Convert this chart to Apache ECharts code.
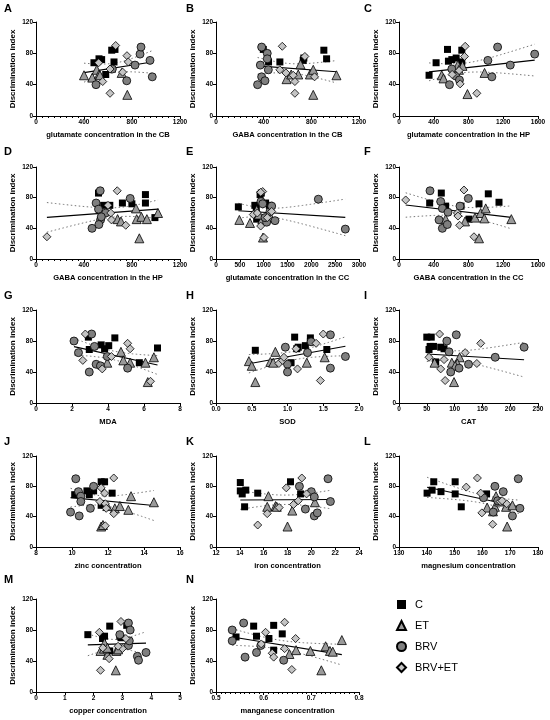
<!DOCTYPE html>
<html>
<head>
<meta charset="utf-8">
<script src="https://cdn.jsdelivr.net/npm/echarts@6/dist/echarts.min.js"></script>
<style>
  html, body { margin: 0; padding: 0; background: #fff; }
  #chart { width: 550px; height: 720px; }
</style>
</head>
<body>
<div id="chart"></div>
<script>
// groups
var groupNames = ['C', 'ET', 'BRV', 'BRV+ET']

// panel letters and x axis names / ticks
var letters = ['A', 'B', 'C', 'D', 'E', 'F', 'G', 'H', 'I', 'J', 'K', 'L', 'M', 'N']
var xNames = [
  'glutamate concentration in the CB', 'GABA concentration in the CB', 'glutamate concentration in the HP',
  'GABA concentration in the HP', 'glutamate concentration in the CC', 'GABA concentration in the CC',
  'MDA', 'SOD', 'CAT',
  'zinc concentration', 'iron concentration', 'magnesium concentration',
  'copper concentration', 'manganese concentration'
]
var xMins = [0, 0, 0, 0, 0, 0, 0, 0, 0, 8, 12, 130, 0, 0.5]
var xMaxs = [1200, 1200, 1600, 1200, 3000, 1600, 8, 2, 250, 16, 24, 180, 5, 0.8]
var xSteps = [400, 400, 400, 400, 500, 400, 2, 0.5, 50, 2, 2, 10, 1, 0.1]
var yTicks = [0, 40, 80, 120]

// A
var cA = [[483, 68], [525, 73], [547, 72], [631, 84], [658, 85], [650, 69], [581, 53]]
var etA = [[400, 52], [469, 49], [506, 59], [525, 53], [533, 52], [714, 55], [761, 27]]
var brvA = [[500, 40], [636, 60], [756, 45], [825, 65], [867, 79], [875, 88], [950, 71], [969, 50]]
var comboA = [[664, 90], [758, 77], [769, 69], [556, 44], [617, 29], [617, 60], [722, 56], [522, 68]]
// B
var cB = [[397, 85], [441, 69], [536, 69], [732, 71], [737, 74], [905, 84], [928, 73]]
var etB = [[592, 47], [631, 53], [690, 53], [709, 66], [788, 53], [816, 59], [816, 27], [1011, 52]]
var brvB = [[383, 88], [430, 80], [372, 65], [439, 59], [383, 50], [411, 45], [349, 40], [430, 73]]
var comboB = [[556, 89], [536, 59], [587, 55], [746, 76], [662, 44], [662, 29], [827, 50], [648, 52]]
// C
var cC = [[346, 52], [427, 68], [558, 85], [569, 70], [608, 72], [658, 74], [723, 84], [723, 69]]
var etC = [[492, 52], [512, 48], [677, 65], [731, 64], [788, 28], [985, 55], [690, 59]]
var brvC = [[581, 40], [608, 60], [654, 51], [696, 46], [1023, 71], [1135, 88], [1069, 50], [1281, 65], [1562, 79]]
var comboC = [[762, 89], [754, 76], [692, 58], [612, 53], [896, 29], [704, 41]]
// D
var cD = [[521, 86], [564, 70], [615, 70], [720, 73], [799, 72], [912, 84], [912, 73], [991, 54]]
var etD = [[680, 52], [708, 49], [833, 66], [839, 52], [878, 55], [924, 52], [1017, 60], [861, 27]]
var brvD = [[535, 89], [501, 73], [521, 65], [581, 60], [538, 51], [524, 45], [467, 40], [785, 79], [544, 55]]
var comboD = [[91, 29], [677, 89], [623, 60], [629, 51], [748, 44], [600, 70]]
// E
var cE = [[469, 68], [815, 70], [845, 67], [925, 84], [950, 86], [1040, 73], [1120, 70], [853, 52]]
var etE = [[490, 51], [713, 47], [853, 64], [972, 52], [986, 28], [1090, 55], [1150, 54], [900, 58]]
var brvE = [[944, 75], [980, 72], [1063, 48], [1133, 62], [1168, 69], [1238, 50], [2147, 78], [2713, 39], [1028, 54]]
var comboE = [[979, 88], [937, 87], [937, 43], [1007, 28], [1168, 62], [783, 58], [1077, 54], [867, 60]]
// F
var cF = [[353, 73], [487, 86], [537, 69], [714, 69], [806, 52], [921, 72], [1028, 85], [1151, 74]]
var etF = [[537, 52], [760, 49], [875, 54], [921, 27], [940, 60], [982, 53], [998, 66], [1293, 52]]
var brvF = [[357, 89], [480, 75], [499, 66], [461, 51], [499, 40], [556, 45], [564, 61], [798, 79], [702, 69]]
var comboF = [[77, 77], [748, 90], [672, 60], [698, 44], [863, 29], [679, 56]]
// G
var cG = [[2.91, 85], [2.96, 69], [3.62, 75], [3.81, 70], [4.04, 74], [4.38, 84], [5.74, 52], [6.75, 71]]
var etG = [[3.96, 52], [4.72, 66], [4.85, 55], [5.23, 52], [6.08, 52], [6.55, 59], [6.21, 27]]
var brvG = [[2.11, 80], [2.36, 65], [2.96, 40], [3.09, 89], [3.25, 73], [3.34, 50], [3.58, 48], [3.96, 60], [5.09, 45]]
var comboG = [[2.74, 89], [2.60, 55], [3.68, 44], [4.19, 60], [5.09, 77], [5.23, 70], [6.36, 28]]
// H
var cH = [[0.55, 68], [1.10, 85], [1.15, 72], [1.13, 70], [1.25, 74], [1.32, 84], [1.32, 79], [1.55, 69], [1.05, 52]]
var etH = [[0.46, 54], [0.50, 48], [0.55, 27], [0.83, 66], [0.76, 53], [0.80, 52], [1.27, 52], [1.52, 59]]
var brvH = [[0.97, 72], [1.00, 50], [1.00, 40], [1.28, 65], [1.33, 79], [1.60, 88], [1.60, 45], [1.81, 60]]
var comboH = [[0.88, 51], [0.93, 55], [0.95, 59], [1.14, 44], [1.12, 70], [1.40, 77], [1.50, 89], [1.46, 29]]
// I
var cI = [[50, 85], [58, 85], [56, 73], [62, 73], [54, 69], [75, 72], [81, 70], [66, 53]]
var etI = [[64, 52], [95, 52], [109, 59], [105, 51], [99, 27], [101, 48]]
var brvI = [[86, 80], [103, 88], [90, 66], [93, 40], [108, 45], [125, 50], [173, 59], [225, 72]]
var comboI = [[54, 59], [73, 89], [75, 44], [83, 29], [81, 56], [119, 65], [147, 77], [140, 51]]
// J
var cJ = [[10.15, 69], [10.83, 74], [10.96, 69], [11.2, 74], [11.62, 86], [11.81, 86], [12.23, 71], [11.62, 55]]
var etJ = [[11.62, 27], [11.72, 29], [12.38, 51], [12.66, 54], [13.13, 49], [13.28, 67], [14.55, 59], [11.96, 54]]
var brvJ = [[9.92, 46], [10.21, 90], [10.4, 41], [10.36, 73], [10.49, 67], [10.49, 60], [11.02, 51], [11.2, 80]]
var comboJ = [[12.32, 91], [11.62, 78], [11.55, 60], [11.81, 71], [11.85, 57], [12.32, 44], [11.85, 28], [11.9, 51]]
// K
var cK = [[14.04, 85], [14.04, 74], [14.5, 75], [14.2, 70], [14.4, 53], [15.5, 71], [18.25, 86], [19.1, 70]]
var etK = [[16.4, 67], [16.3, 53], [17.0, 54], [18.4, 48], [17.1, 53], [20.3, 59], [18.0, 27]]
var brvK = [[19.0, 80], [19.5, 50], [20.0, 73], [20.25, 66], [20.25, 41], [20.5, 45], [21.4, 90], [21.6, 60]]
var comboK = [[16.3, 44], [15.5, 29], [17.9, 78], [19.2, 91], [19.6, 70], [18.9, 61], [18.5, 56], [17.3, 52]]
// L
var cL = [[140.1, 71], [141.9, 75], [142.5, 86], [145.1, 73], [150.2, 86], [150.2, 70], [152.4, 53], [161.5, 70]]
var etL = [[161.7, 52], [163.8, 47], [164.5, 53], [164.9, 67], [168.5, 53], [170.8, 55], [168.9, 27], [166, 60]]
var brvL = [[164.5, 80], [163.9, 46], [160.4, 65], [165.5, 61], [167.5, 73], [170.8, 41], [172.9, 90], [173.5, 51]]
var comboL = [[154.2, 79], [158.2, 91], [159.4, 71], [159.8, 45], [163.7, 30], [166.4, 60], [168.7, 57], [167.1, 61]]
// M
var cM = [[1.8, 74], [2.38, 72], [2.31, 69], [2.56, 85], [2.56, 53], [2.91, 72], [2.95, 70], [3.15, 86]]
var etM = [[2.24, 53], [2.38, 63], [2.48, 48], [2.79, 53], [2.85, 55], [2.77, 28], [2.36, 56], [2.48, 57]]
var brvM = [[3.21, 89], [3.27, 80], [3.21, 60], [3.24, 66], [3.52, 46], [3.56, 41], [3.82, 51], [2.91, 74]]
var comboM = [[2.2, 77], [2.95, 91], [3.12, 69], [2.24, 28], [2.54, 43], [3.0, 56], [2.85, 59], [2.32, 57]]
// N
var cN = [[0.542, 71], [0.579, 85], [0.585, 72], [0.611, 69], [0.621, 86], [0.621, 54], [0.639, 75]]
var etN = [[0.654, 49], [0.668, 54], [0.698, 53], [0.721, 28], [0.730, 59], [0.739, 53], [0.745, 52], [0.764, 67]]
var brvN = [[0.534, 80], [0.534, 66], [0.558, 89], [0.561, 45], [0.585, 51], [0.594, 60], [0.642, 41]]
var comboN = [[0.604, 77], [0.618, 50], [0.621, 45], [0.644, 90], [0.644, 56], [0.667, 69], [0.659, 29], [0.595, 62]]

var panelData = [
  [cA, etA, brvA, comboA], [cB, etB, brvB, comboB], [cC, etC, brvC, comboC],
  [cD, etD, brvD, comboD], [cE, etE, brvE, comboE], [cF, etF, brvF, comboF],
  [cG, etG, brvG, comboG], [cH, etH, brvH, comboH], [cI, etI, brvI, comboI],
  [cJ, etJ, brvJ, comboJ], [cK, etK, brvK, comboK], [cL, etL, brvL, comboL],
  [cM, etM, brvM, comboM], [cN, etN, brvN, comboN]
]

// layout
var colLeft = [36, 216, 399]
var colWidth = [144, 143, 139]
var rowTop = [22, 167, 310, 456, 599]
var rowHeight = [94, 92, 93, 91, 93]
var letterPos = [[4, 3], [186, 3], [364, 3]]
var rowLetterTop = [3, 146, 290, 436, 574]

var symbols = ['rect', 'triangle', 'circle', 'diamond']
var symbolSizes = [7, 9, 8, 8]
var fills = ['#000000', '#9a9a9a', '#7f7f7f', '#c4c4c4']
var FONT = 'Liberation Sans, Arial, sans-serif'

// simple linear regression with 95% confidence band
function regression (pts) {
  var n = pts.length
  var mx = 0, my = 0
  pts.forEach(function (p) { mx += p[0]; my += p[1] })
  mx /= n; my /= n
  var sxx = 0, sxy = 0
  pts.forEach(function (p) { sxx += (p[0] - mx) * (p[0] - mx); sxy += (p[0] - mx) * (p[1] - my) })
  var b = sxy / sxx
  var a = my - b * mx
  var sse = 0
  pts.forEach(function (p) { var r = p[1] - (a + b * p[0]); sse += r * r })
  var s = Math.sqrt(sse / (n - 2))
  var t = 1.96 + 2.4 / (n - 2)
  var xs = pts.map(function (p) { return p[0] })
  var x0 = Math.min.apply(null, xs), x1 = Math.max.apply(null, xs)
  var line = [[x0, a + b * x0], [x1, a + b * x1]]
  var upper = [], lower = []
  for (var k = 0; k <= 40; k++) {
    var x = x0 + (x1 - x0) * k / 40
    var h = t * s * Math.sqrt(1 / n + (x - mx) * (x - mx) / sxx)
    upper.push([x, a + b * x + h])
    lower.push([x, a + b * x - h])
  }
  return { line: line, upper: upper, lower: lower }
}

var grids = [], xAxes = [], yAxes = [], series = [], graphics = []

panelData.forEach(function (groups, i) {
  var col = i % 3, row = Math.floor(i / 3)
  grids.push({ left: colLeft[col], top: rowTop[row], width: colWidth[col], height: rowHeight[row] })
  var dec = (i === 7 || i === 13) ? 1 : 0
  var minor = (i === 0 || i === 1 || i === 3) ? 8 : (i === 13 ? 10 : 0)
  xAxes.push({
    type: 'value', gridIndex: i, min: xMins[i], max: xMaxs[i], interval: xSteps[i],
    name: xNames[i], nameLocation: 'middle', nameGap: 15,
    nameTextStyle: { fontFamily: FONT, fontSize: 7.6, fontWeight: 'bold', color: '#000' },
    axisLine: { onZero: false, lineStyle: { color: '#000', width: 1 } },
    axisTick: { length: 3, lineStyle: { color: '#000' } },
    minorTick: { show: minor > 0, splitNumber: minor || 5, length: 2, lineStyle: { color: '#000' } },
    axisLabel: {
      fontFamily: FONT, fontSize: 6.5, fontWeight: 'bold', color: '#000', margin: 3,
      formatter: function (v) { return dec ? v.toFixed(1) : String(Math.round(v)) }
    },
    splitLine: { show: false }
  })
  yAxes.push({
    type: 'value', gridIndex: i, min: yTicks[0], max: yTicks[yTicks.length - 1], interval: yTicks[1] - yTicks[0],
    name: 'Discrimination index', nameLocation: 'middle', nameGap: 19, nameRotate: 90,
    nameTextStyle: { fontFamily: FONT, fontSize: 8, fontWeight: 'bold', color: '#000' },
    axisLine: { show: true, lineStyle: { color: '#000', width: 1 } },
    axisTick: { show: true, length: 3, lineStyle: { color: '#000' } },
    axisLabel: { fontFamily: FONT, fontSize: 6.5, fontWeight: 'bold', color: '#000', margin: 3 },
    splitLine: { show: false }
  })

  var all = []
  groups.forEach(function (g) { all = all.concat(g) })
  var reg = regression(all)
  series.push({
    type: 'line', xAxisIndex: i, yAxisIndex: i, data: reg.line, symbol: 'none', silent: true, z: 1,
    lineStyle: { color: '#000', width: 1.1 }
  })
  ;[reg.upper, reg.lower].forEach(function (band) {
    series.push({
      type: 'line', xAxisIndex: i, yAxisIndex: i, data: band, symbol: 'none', silent: true, z: 1,
      lineStyle: { color: '#777', width: 1, type: [1.5, 2.5] }
    })
  })
  groups.forEach(function (g, gi) {
    series.push({
      name: groupNames[gi], type: 'scatter', xAxisIndex: i, yAxisIndex: i, data: g, z: 3,
      symbol: symbols[gi], symbolSize: symbolSizes[gi],
      itemStyle: { color: fills[gi], borderColor: '#000', borderWidth: gi === 0 ? 0 : 0.8, opacity: 1 }
    })
  })

  graphics.push({
    type: 'text', left: letterPos[col][0], top: rowLetterTop[row],
    style: { text: letters[i], font: 'bold 11px ' + FONT, fill: '#000' }
  })
})

var chart = echarts.init(document.getElementById('chart'))
chart.setOption({
  animation: false,
  backgroundColor: '#fff',
  grid: grids,
  xAxis: xAxes,
  yAxis: yAxes,
  series: series,
  graphic: graphics,
  legend: {
    orient: 'vertical', left: 391, top: 594,
    itemWidth: 9, itemHeight: 9, itemGap: 10,
    textStyle: { fontFamily: FONT, fontSize: 11, color: '#000', padding: [0, 0, 0, 4] },
    data: groupNames.map(function (n, gi) { return { name: n, icon: symbols[gi] } })
  }
})
</script>
</body>
</html>
